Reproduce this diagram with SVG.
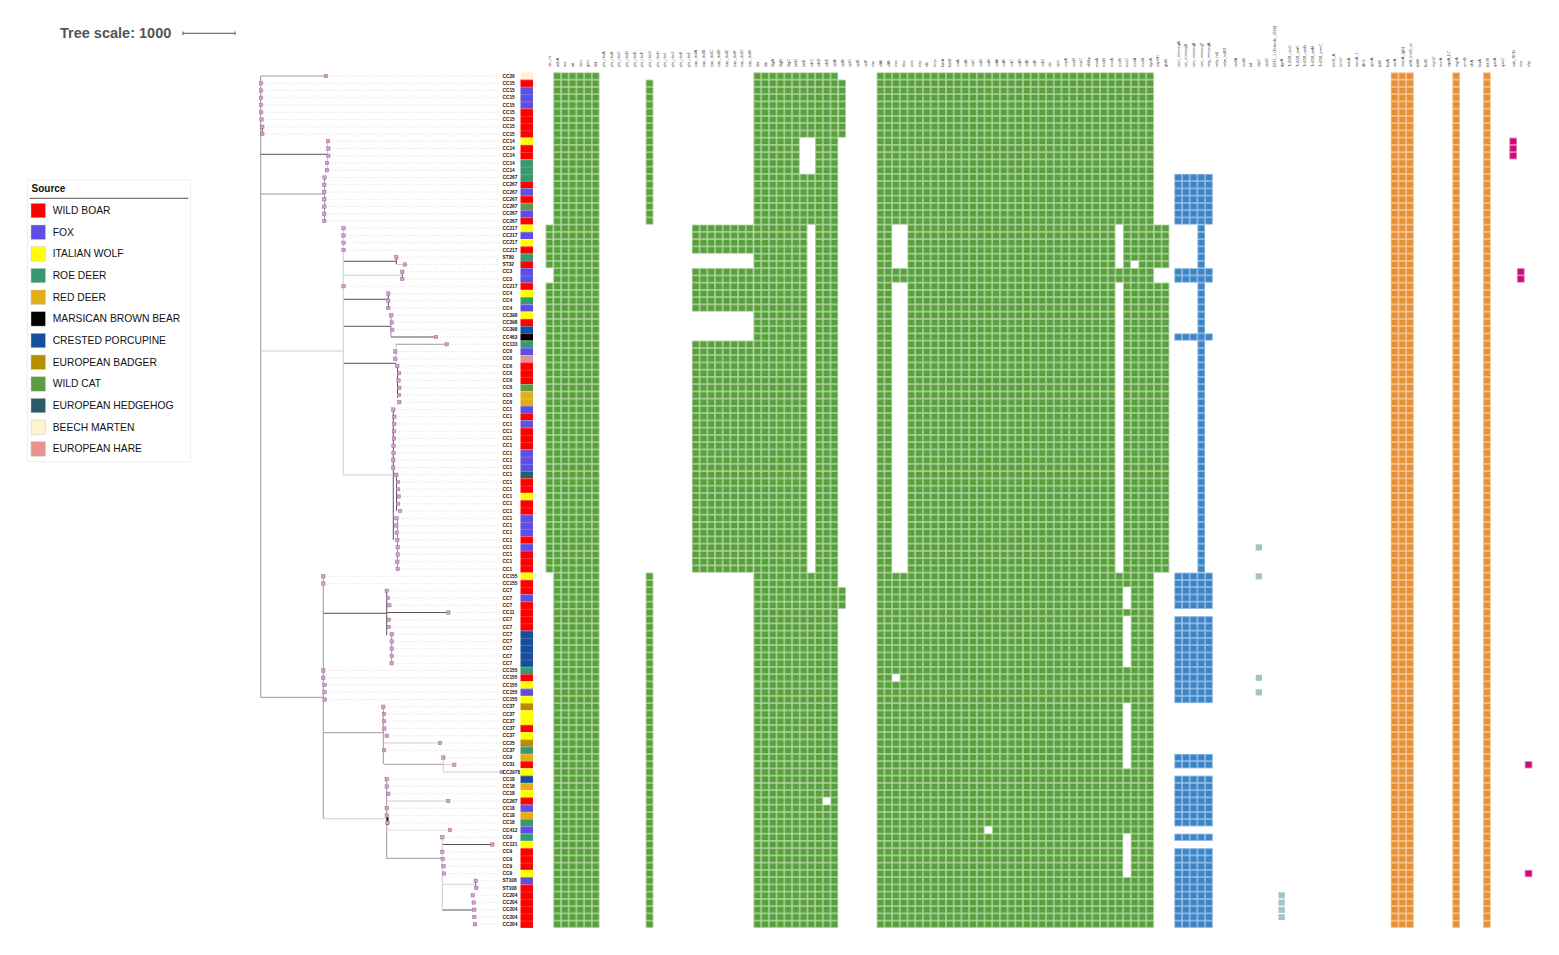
<svg xmlns="http://www.w3.org/2000/svg" xmlns:xlink="http://www.w3.org/1999/xlink" width="1559" height="955" viewBox="0 0 1559 955">
<style>
.wb{fill:#ff0000}.fx{fill:#5e4fe3}.yw{fill:#ffff00}.rd{fill:#37996f}.rv{fill:#e3ad17}.bb{fill:#000}.cp{fill:#174f9c}.eb{fill:#b98d00}.wc{fill:#5f9a45}.hh{fill:#295d68}.bm{fill:#fff2cc}.hr{fill:#e6938f}
.lg{font-family:"Liberation Sans",Arial,sans-serif;font-size:10.3px;fill:#111}
.lf{font-family:"Liberation Sans",Arial,sans-serif;font-size:4.8px;font-weight:bold;fill:#111}
.hd{font-family:"Liberation Sans",Arial,sans-serif;font-size:4px;fill:#444}
.d{stroke:#555;stroke-width:1;fill:none}.m{stroke:#999;stroke-width:1;fill:none}.l{stroke:#cfcfcf;stroke-width:1;fill:none}
.hole{fill:#fff}
</style>
<defs>
<pattern id="pg" patternUnits="userSpaceOnUse" x="545.6" y="72.4" width="7.7" height="7.25"><rect width="7.7" height="7.25" fill="#b6d7a8"/><rect x="0.7" y="0.7" width="6.3" height="5.85" fill="#58a13b"/></pattern>
<pattern id="pb" patternUnits="userSpaceOnUse" x="1174.3" y="72.4" width="7.7" height="7.25"><rect width="7.7" height="7.25" fill="#9fc5e8"/><rect x="0.7" y="0.7" width="6.3" height="5.85" fill="#3d85c6"/></pattern>
<pattern id="po" patternUnits="userSpaceOnUse" x="1390.7" y="72.4" width="7.7" height="7.25"><rect width="7.7" height="7.25" fill="#f9cb9c"/><rect x="0.7" y="0.7" width="6.3" height="5.85" fill="#e69138"/></pattern>
<pattern id="pm" patternUnits="userSpaceOnUse" x="1509.3" y="72.4" width="7.7" height="7.25"><rect width="7.7" height="7.25" fill="#ef9ac8"/><rect x="0.7" y="0.7" width="6.3" height="5.85" fill="#cc0a7a"/></pattern>
<pattern id="pt" patternUnits="userSpaceOnUse" x="0" y="72.4" width="20" height="7.25"><rect width="20" height="0.4" fill="#fff" fill-opacity="0.5"/></pattern>
<rect id="mk" x="-1.7" y="-1.7" width="3.4" height="3.4" fill="#d3a1ca" stroke="#a2649a" stroke-width="0.5"/>
</defs>
<rect width="1559" height="955" fill="#fff"/>

<g id="tree-scale">
<text x="60" y="38.3" font-family="Liberation Sans,Arial,sans-serif" font-size="14.5" font-weight="bold" fill="#555">Tree scale: 1000</text>
<path d="M183 33.3H235M183 31.5V35.1M235 31.5V35.1" stroke="#555" stroke-width="1" fill="none"/>
</g>

<g id="legend">
<rect x="27.3" y="180" width="163.3" height="281.7" fill="#fff" stroke="#eee" stroke-width="1"/>
<text x="31.5" y="191.5" font-family="Liberation Sans,Arial,sans-serif" font-size="10" font-weight="bold" fill="#111">Source</text>
<line x1="29.5" y1="198.3" x2="188.3" y2="198.3" stroke="#555" stroke-width="1"/>
<g stroke="#ccc" stroke-width="0.5">
<rect class="wb" x="31" y="203.3" width="14.5" height="14.5"/>
<rect class="fx" x="31" y="225" width="14.5" height="14.5"/>
<rect class="yw" x="31" y="246.6" width="14.5" height="14.5"/>
<rect class="rd" x="31" y="268.3" width="14.5" height="14.5"/>
<rect class="rv" x="31" y="290" width="14.5" height="14.5"/>
<rect class="bb" x="31" y="311.6" width="14.5" height="14.5"/>
<rect class="cp" x="31" y="333.3" width="14.5" height="14.5"/>
<rect class="eb" x="31" y="355" width="14.5" height="14.5"/>
<rect class="wc" x="31" y="376.7" width="14.5" height="14.5"/>
<rect class="hh" x="31" y="398.3" width="14.5" height="14.5"/>
<rect class="bm" x="31" y="420" width="14.5" height="14.5"/>
<rect class="hr" x="31" y="441.7" width="14.5" height="14.5"/>
</g>
<text class="lg" x="52.7" y="214">WILD BOAR</text>
<text class="lg" x="52.7" y="235.7">FOX</text>
<text class="lg" x="52.7" y="257.3">ITALIAN WOLF</text>
<text class="lg" x="52.7" y="279">ROE DEER</text>
<text class="lg" x="52.7" y="300.7">RED DEER</text>
<text class="lg" x="52.7" y="322.3">MARSICAN BROWN BEAR</text>
<text class="lg" x="52.7" y="344">CRESTED PORCUPINE</text>
<text class="lg" x="52.7" y="365.7">EUROPEAN BADGER</text>
<text class="lg" x="52.7" y="387.4">WILD CAT</text>
<text class="lg" x="52.7" y="409">EUROPEAN HEDGEHOG</text>
<text class="lg" x="52.7" y="430.7">BEECH MARTEN</text>
<text class="lg" x="52.7" y="452.4">EUROPEAN HARE</text>
</g>

<g id="connectors">
<path stroke="#c4c4c4" stroke-width="0.6" stroke-dasharray="1 2" fill="none" d="M328 76H500M263 83.25H500M263 90.5H500M263 97.75H500M263 105H500M263 112.25H500M263.5 119.5H500M264.3 126.75H500M264.3 134H500M330 141.25H500M330.3 148.5H500M330.3 155.75H500M329 163H500M329 170.25H500M326.5 177.5H500M326.3 184.75H500M326.3 192H500M326.3 199.25H500M326.3 206.5H500M326.3 213.75H500M326.3 221H500M345.5 228.25H500M345.5 235.5H500M345.5 242.75H500M345.5 250H500M398.3 257.25H500M407 264.5H500M404.3 271.75H500M404.3 279H500M345.5 286.25H500M390.3 293.5H500M390.3 300.75H500M390.3 308H500M393.3 315.25H500M393.7 322.5H500M394.3 329.75H500M438 337H500M448.7 344.25H500M397.3 351.5H500M397.3 358.75H500M399.3 366H500M401 373.25H500M400.5 380.5H500M401.3 387.75H500M401 395H500M401.3 402.25H500M395.3 409.5H500M396.3 416.75H500M396.3 424H500M396 431.25H500M396 438.5H500M395.5 445.75H500M395.5 453H500M395.3 460.25H500M395.3 467.5H500M398.3 474.75H500M400 482H500M400 489.25H500M400.7 496.5H500M400 503.75H500M402 511H500M398.5 518.25H500M398.3 525.5H500M398.7 532.75H500M399.3 540H500M399.7 547.25H500M399.7 554.5H500M399.3 561.75H500M399.7 569H500M325.3 576.25H500M325.3 583.5H500M388.7 590.75H500M390 598H500M391.3 605.25H500M450.3 612.5H500M390.7 619.75H500M390.7 627H500M393.7 634.25H500M393.7 641.5H500M393.7 648.75H500M393.7 656H500M393.7 663.25H500M325.3 670.5H500M325.3 677.75H500M326.5 685H500M326.5 692.25H500M326.7 699.5H500M385.3 706.75H500M386 714H500M386 721.25H500M386.3 728.5H500M388.7 735.75H500M442 743H500M386 750.25H500M445.3 757.5H500M456.3 764.75H500M388.7 779.25H500M388.7 786.5H500M390.3 793.75H500M450.3 801H500M388.7 808.25H500M388.7 815.5H500M389.5 822.75H500M452 830H500M444.3 837.25H500M494.3 844.5H500M444.3 851.75H500M444.7 859H500M445.5 866.25H500M446 873.5H500M477.7 880.75H500M478.3 888H500M474.7 895.25H500M475.7 902.5H500M476.3 909.75H500M476.3 917H500M477 924.25H500"/>
<path class="m" d="M260.7 76V697.3M260.7 76H326M260.7 194H324.5M324.5 177.5V221M260.7 697.3H323.3M323.3 576.25V818.7"/>
<path class="d" d="M262.3 126.75V134M260.7 154.3H327.5M343.3 261.3H396.3M396.3 257.25V264.5M402.3 271.75V279M343.3 299.3H388.3M388.3 293.5V308M343.3 326.3H391M391 337H436M343.3 363.3H396M397.5 366V398M393.3 409.5V540M396.5 474V511"/>
<path class="l" d="M327.5 141.25V170.25M260.7 351H343.3M343.3 228.25V475M396.3 264.5H405M343.3 275.3H402.3M396 344.25V363.3M343.3 475H393.3"/>
<path class="m" d="M391 315.25V337M396 344.25H446.7M397.5 518V569"/>
<path class="d" d="M323.3 613.3H386.7M386.7 590.7V635.3M386.7 612.5H448.3M442.3 844.5H492.3M475.7 880.75V888M442.3 910H473.3"/>
<path class="m" d="M391.7 634.25V663.25M323.3 732.7H383.3M383.3 706V764.3M384 764.3H443.3M386.7 779.3V858.3M386.7 858.3H442.3"/>
<path class="l" d="M383.3 743H440M443.3 757.5V772M443.3 764.75H454.3M443.3 772H501.7M323.3 818.7H386.7M386.7 801H448.3M442.3 837.3V910M442.3 884.3H475.7"/>
<path stroke="#e2e2e2" stroke-width="1" fill="none" d="M386.7 830H450"/>
<path stroke="#111" stroke-width="2" fill="none" d="M387.5 817V825"/>
</g>

<g id="leaf-markers">
<use href="#mk" x="326" y="76"/><use href="#mk" x="261" y="83.25"/><use href="#mk" x="261" y="90.5"/><use href="#mk" x="261" y="97.75"/><use href="#mk" x="261" y="105"/><use href="#mk" x="261" y="112.25"/><use href="#mk" x="261.5" y="119.5"/><use href="#mk" x="262.3" y="126.75"/><use href="#mk" x="262.3" y="134"/>
<use href="#mk" x="328" y="141.25"/><use href="#mk" x="328.3" y="148.5"/><use href="#mk" x="328.3" y="155.75"/><use href="#mk" x="327" y="163"/><use href="#mk" x="327" y="170.25"/>
<use href="#mk" x="324.5" y="177.5"/><use href="#mk" x="324.3" y="184.75"/><use href="#mk" x="324.3" y="192"/><use href="#mk" x="324.3" y="199.25"/><use href="#mk" x="324.3" y="206.5"/><use href="#mk" x="324.3" y="213.75"/><use href="#mk" x="324.3" y="221"/>
<use href="#mk" x="343.5" y="228.25"/><use href="#mk" x="343.5" y="235.5"/><use href="#mk" x="343.5" y="242.75"/><use href="#mk" x="343.5" y="250"/><use href="#mk" x="396.3" y="257.25"/><use href="#mk" x="405" y="264.5"/><use href="#mk" x="402.3" y="271.75"/><use href="#mk" x="402.3" y="279"/><use href="#mk" x="343.5" y="286.25"/>
<use href="#mk" x="388.3" y="293.5"/><use href="#mk" x="388.3" y="300.75"/><use href="#mk" x="388.3" y="308"/><use href="#mk" x="391.3" y="315.25"/><use href="#mk" x="391.7" y="322.5"/><use href="#mk" x="392.3" y="329.75"/><use href="#mk" x="436" y="337"/><use href="#mk" x="446.7" y="344.25"/>
<use href="#mk" x="395.3" y="351.5"/><use href="#mk" x="395.3" y="358.75"/><use href="#mk" x="397.3" y="366"/><use href="#mk" x="399" y="373.25"/><use href="#mk" x="398.5" y="380.5"/><use href="#mk" x="399.3" y="387.75"/><use href="#mk" x="399" y="395"/><use href="#mk" x="399.3" y="402.25"/>
<use href="#mk" x="393.3" y="409.5"/><use href="#mk" x="394.3" y="416.75"/><use href="#mk" x="394.3" y="424"/><use href="#mk" x="394" y="431.25"/><use href="#mk" x="394" y="438.5"/><use href="#mk" x="393.5" y="445.75"/><use href="#mk" x="393.5" y="453"/><use href="#mk" x="393.3" y="460.25"/><use href="#mk" x="393.3" y="467.5"/>
<use href="#mk" x="396.3" y="474.75"/><use href="#mk" x="398" y="482"/><use href="#mk" x="398" y="489.25"/><use href="#mk" x="398.7" y="496.5"/><use href="#mk" x="398" y="503.75"/><use href="#mk" x="400" y="511"/><use href="#mk" x="396.5" y="518.25"/><use href="#mk" x="396.3" y="525.5"/><use href="#mk" x="396.7" y="532.75"/><use href="#mk" x="397.3" y="540"/><use href="#mk" x="397.7" y="547.25"/><use href="#mk" x="397.7" y="554.5"/><use href="#mk" x="397.3" y="561.75"/><use href="#mk" x="397.7" y="569"/>
<use href="#mk" x="323.3" y="576.25"/><use href="#mk" x="323.3" y="583.5"/><use href="#mk" x="386.7" y="590.75"/><use href="#mk" x="388" y="598"/><use href="#mk" x="389.3" y="605.25"/><use href="#mk" x="448.3" y="612.5"/><use href="#mk" x="388.7" y="619.75"/><use href="#mk" x="388.7" y="627"/><use href="#mk" x="391.7" y="634.25"/><use href="#mk" x="391.7" y="641.5"/><use href="#mk" x="391.7" y="648.75"/><use href="#mk" x="391.7" y="656"/><use href="#mk" x="391.7" y="663.25"/>
<use href="#mk" x="323.3" y="670.5"/><use href="#mk" x="323.3" y="677.75"/><use href="#mk" x="324.5" y="685"/><use href="#mk" x="324.5" y="692.25"/><use href="#mk" x="324.7" y="699.5"/>
<use href="#mk" x="383.3" y="706.75"/><use href="#mk" x="384" y="714"/><use href="#mk" x="384" y="721.25"/><use href="#mk" x="384.3" y="728.5"/><use href="#mk" x="386.7" y="735.75"/><use href="#mk" x="440" y="743"/><use href="#mk" x="384" y="750.25"/><use href="#mk" x="443.3" y="757.5"/><use href="#mk" x="454.3" y="764.75"/><use href="#mk" x="501.7" y="772"/>
<use href="#mk" x="386.7" y="779.25"/><use href="#mk" x="386.7" y="786.5"/><use href="#mk" x="388.3" y="793.75"/><use href="#mk" x="448.3" y="801"/><use href="#mk" x="386.7" y="808.25"/><use href="#mk" x="386.7" y="815.5"/><use href="#mk" x="387.5" y="822.75"/><use href="#mk" x="450" y="830"/>
<use href="#mk" x="442.3" y="837.25"/><use href="#mk" x="492.3" y="844.5"/><use href="#mk" x="442.3" y="851.75"/><use href="#mk" x="442.7" y="859"/><use href="#mk" x="443.5" y="866.25"/><use href="#mk" x="444" y="873.5"/><use href="#mk" x="475.7" y="880.75"/><use href="#mk" x="476.3" y="888"/>
<use href="#mk" x="472.7" y="895.25"/><use href="#mk" x="473.7" y="902.5"/><use href="#mk" x="474.3" y="909.75"/><use href="#mk" x="474.3" y="917"/><use href="#mk" x="475" y="924.25"/>
</g>

<g id="leaf-labels">
<text class="lf" x="502.5" y="77.7">CC26</text><text class="lf" x="502.5" y="84.95">CC15</text><text class="lf" x="502.5" y="92.2">CC15</text><text class="lf" x="502.5" y="99.45">CC15</text><text class="lf" x="502.5" y="106.7">CC15</text><text class="lf" x="502.5" y="113.95">CC15</text><text class="lf" x="502.5" y="121.2">CC15</text><text class="lf" x="502.5" y="128.45">CC15</text><text class="lf" x="502.5" y="135.7">CC15</text>
<text class="lf" x="502.5" y="142.95">CC14</text><text class="lf" x="502.5" y="150.2">CC14</text><text class="lf" x="502.5" y="157.45">CC14</text><text class="lf" x="502.5" y="164.7">CC14</text><text class="lf" x="502.5" y="171.95">CC14</text>
<text class="lf" x="502.5" y="179.2">CC267</text><text class="lf" x="502.5" y="186.45">CC267</text><text class="lf" x="502.5" y="193.7">CC267</text><text class="lf" x="502.5" y="200.95">CC267</text><text class="lf" x="502.5" y="208.2">CC267</text><text class="lf" x="502.5" y="215.45">CC267</text><text class="lf" x="502.5" y="222.7">CC267</text>
<text class="lf" x="502.5" y="229.95">CC217</text><text class="lf" x="502.5" y="237.2">CC217</text><text class="lf" x="502.5" y="244.45">CC217</text><text class="lf" x="502.5" y="251.7">CC217</text><text class="lf" x="502.5" y="258.95">ST80</text><text class="lf" x="502.5" y="266.2">ST32</text><text class="lf" x="502.5" y="273.45">CC3</text><text class="lf" x="502.5" y="280.7">CC3</text><text class="lf" x="502.5" y="287.95">CC217</text>
<text class="lf" x="502.5" y="295.2">CC4</text><text class="lf" x="502.5" y="302.45">CC4</text><text class="lf" x="502.5" y="309.7">CC4</text><text class="lf" x="502.5" y="316.95">CC398</text><text class="lf" x="502.5" y="324.2">CC398</text><text class="lf" x="502.5" y="331.45">CC398</text><text class="lf" x="502.5" y="338.7">CC463</text><text class="lf" x="502.5" y="345.95">CC133</text>
<text class="lf" x="502.5" y="353.2">CC6</text><text class="lf" x="502.5" y="360.45">CC6</text><text class="lf" x="502.5" y="367.7">CC6</text><text class="lf" x="502.5" y="374.95">CC6</text><text class="lf" x="502.5" y="382.2">CC6</text><text class="lf" x="502.5" y="389.45">CC6</text><text class="lf" x="502.5" y="396.7">CC6</text><text class="lf" x="502.5" y="403.95">CC6</text>
<text class="lf" x="502.5" y="411.2">CC1</text><text class="lf" x="502.5" y="418.45">CC1</text><text class="lf" x="502.5" y="425.7">CC1</text><text class="lf" x="502.5" y="432.95">CC1</text><text class="lf" x="502.5" y="440.2">CC1</text><text class="lf" x="502.5" y="447.45">CC1</text><text class="lf" x="502.5" y="454.7">CC1</text><text class="lf" x="502.5" y="461.95">CC1</text><text class="lf" x="502.5" y="469.2">CC1</text><text class="lf" x="502.5" y="476.45">CC1</text><text class="lf" x="502.5" y="483.7">CC1</text><text class="lf" x="502.5" y="490.95">CC1</text><text class="lf" x="502.5" y="498.2">CC1</text><text class="lf" x="502.5" y="505.45">CC1</text><text class="lf" x="502.5" y="512.7">CC1</text><text class="lf" x="502.5" y="519.95">CC1</text><text class="lf" x="502.5" y="527.2">CC1</text><text class="lf" x="502.5" y="534.45">CC1</text><text class="lf" x="502.5" y="541.7">CC1</text><text class="lf" x="502.5" y="548.95">CC1</text><text class="lf" x="502.5" y="556.2">CC1</text><text class="lf" x="502.5" y="563.45">CC1</text><text class="lf" x="502.5" y="570.7">CC1</text>
<text class="lf" x="502.5" y="577.95">CC155</text><text class="lf" x="502.5" y="585.2">CC155</text><text class="lf" x="502.5" y="592.45">CC7</text><text class="lf" x="502.5" y="599.7">CC7</text><text class="lf" x="502.5" y="606.95">CC7</text><text class="lf" x="502.5" y="614.2">CC11</text><text class="lf" x="502.5" y="621.45">CC7</text><text class="lf" x="502.5" y="628.7">CC7</text><text class="lf" x="502.5" y="635.95">CC7</text><text class="lf" x="502.5" y="643.2">CC7</text><text class="lf" x="502.5" y="650.45">CC7</text><text class="lf" x="502.5" y="657.7">CC7</text><text class="lf" x="502.5" y="664.95">CC7</text>
<text class="lf" x="502.5" y="672.2">CC155</text><text class="lf" x="502.5" y="679.45">CC155</text><text class="lf" x="502.5" y="686.7">CC155</text><text class="lf" x="502.5" y="693.95">CC155</text><text class="lf" x="502.5" y="701.2">CC155</text>
<text class="lf" x="502.5" y="708.45">CC37</text><text class="lf" x="502.5" y="715.7">CC37</text><text class="lf" x="502.5" y="722.95">CC37</text><text class="lf" x="502.5" y="730.2">CC37</text><text class="lf" x="502.5" y="737.45">CC37</text><text class="lf" x="502.5" y="744.7">CC25</text><text class="lf" x="502.5" y="751.95">CC37</text><text class="lf" x="502.5" y="759.2">CC9</text><text class="lf" x="502.5" y="766.45">CC31</text><text class="lf" x="502.5" y="773.7">CC2978</text>
<text class="lf" x="502.5" y="780.95">CC18</text><text class="lf" x="502.5" y="788.2">CC18</text><text class="lf" x="502.5" y="795.45">CC18</text><text class="lf" x="502.5" y="802.7">CC267</text><text class="lf" x="502.5" y="809.95">CC18</text><text class="lf" x="502.5" y="817.2">CC18</text><text class="lf" x="502.5" y="824.45">CC18</text><text class="lf" x="502.5" y="831.7">CC412</text>
<text class="lf" x="502.5" y="838.95">CC9</text><text class="lf" x="502.5" y="846.2">CC121</text><text class="lf" x="502.5" y="853.45">CC9</text><text class="lf" x="502.5" y="860.7">CC9</text><text class="lf" x="502.5" y="867.95">CC9</text><text class="lf" x="502.5" y="875.2">CC9</text><text class="lf" x="502.5" y="882.45">ST108</text><text class="lf" x="502.5" y="889.7">ST108</text>
<text class="lf" x="502.5" y="896.95">CC204</text><text class="lf" x="502.5" y="904.2">CC204</text><text class="lf" x="502.5" y="911.45">CC204</text><text class="lf" x="502.5" y="918.7">CC204</text><text class="lf" x="502.5" y="925.95">CC204</text>
</g>

<g id="source-strip">
<rect class="bm" x="520.5" y="72.4" width="12.5" height="7.25"/>
<rect class="wb" x="520.5" y="79.65" width="12.5" height="7.25"/>
<rect class="fx" x="520.5" y="86.9" width="12.5" height="21.75"/>
<rect class="wb" x="520.5" y="108.65" width="12.5" height="29"/>
<rect class="yw" x="520.5" y="137.65" width="12.5" height="7.25"/>
<rect class="wb" x="520.5" y="144.9" width="12.5" height="14.5"/>
<rect class="rd" x="520.5" y="159.4" width="12.5" height="21.75"/>
<rect class="wb" x="520.5" y="181.15" width="12.5" height="7.25"/>
<rect class="fx" x="520.5" y="188.4" width="12.5" height="7.25"/>
<rect class="wb" x="520.5" y="195.65" width="12.5" height="7.25"/>
<rect class="wc" x="520.5" y="202.9" width="12.5" height="7.25"/>
<rect class="fx" x="520.5" y="210.15" width="12.5" height="7.25"/>
<rect class="wb" x="520.5" y="217.4" width="12.5" height="7.25"/>
<rect class="yw" x="520.5" y="224.65" width="12.5" height="7.25"/>
<rect class="fx" x="520.5" y="231.9" width="12.5" height="7.25"/>
<rect class="yw" x="520.5" y="239.15" width="12.5" height="7.25"/>
<rect class="wb" x="520.5" y="246.4" width="12.5" height="7.25"/>
<rect class="rd" x="520.5" y="253.65" width="12.5" height="7.25"/>
<rect class="wb" x="520.5" y="260.9" width="12.5" height="7.25"/>
<rect class="fx" x="520.5" y="268.15" width="12.5" height="14.5"/>
<rect class="wb" x="520.5" y="282.65" width="12.5" height="7.25"/>
<rect class="yw" x="520.5" y="289.9" width="12.5" height="7.25"/>
<rect class="rd" x="520.5" y="297.15" width="12.5" height="7.25"/>
<rect class="fx" x="520.5" y="304.4" width="12.5" height="7.25"/>
<rect class="yw" x="520.5" y="311.65" width="12.5" height="7.25"/>
<rect class="wb" x="520.5" y="318.9" width="12.5" height="7.25"/>
<rect class="cp" x="520.5" y="326.15" width="12.5" height="7.25"/>
<rect class="bb" x="520.5" y="333.4" width="12.5" height="7.25"/>
<rect class="rd" x="520.5" y="340.65" width="12.5" height="7.25"/>
<rect class="fx" x="520.5" y="347.9" width="12.5" height="7.25"/>
<rect class="hr" x="520.5" y="355.15" width="12.5" height="7.25"/>
<rect class="wb" x="520.5" y="362.4" width="12.5" height="21.75"/>
<rect class="wc" x="520.5" y="384.15" width="12.5" height="7.25"/>
<rect class="rv" x="520.5" y="391.4" width="12.5" height="14.5"/>
<rect class="fx" x="520.5" y="405.9" width="12.5" height="7.25"/>
<rect class="wb" x="520.5" y="413.15" width="12.5" height="7.25"/>
<rect class="fx" x="520.5" y="420.4" width="12.5" height="7.25"/>
<rect class="wb" x="520.5" y="427.65" width="12.5" height="21.75"/>
<rect class="fx" x="520.5" y="449.4" width="12.5" height="21.75"/>
<rect class="hh" x="520.5" y="471.15" width="12.5" height="7.25"/>
<rect class="wb" x="520.5" y="478.4" width="12.5" height="14.5"/>
<rect class="yw" x="520.5" y="492.9" width="12.5" height="7.25"/>
<rect class="wb" x="520.5" y="500.15" width="12.5" height="14.5"/>
<rect class="fx" x="520.5" y="514.65" width="12.5" height="21.75"/>
<rect class="wb" x="520.5" y="536.4" width="12.5" height="7.25"/>
<rect class="fx" x="520.5" y="543.65" width="12.5" height="7.25"/>
<rect class="wb" x="520.5" y="550.9" width="12.5" height="21.75"/>
<rect class="yw" x="520.5" y="572.65" width="12.5" height="7.25"/>
<rect class="wb" x="520.5" y="579.9" width="12.5" height="14.5"/>
<rect class="fx" x="520.5" y="594.4" width="12.5" height="7.25"/>
<rect class="wb" x="520.5" y="601.65" width="12.5" height="29"/>
<rect class="cp" x="520.5" y="630.65" width="12.5" height="36.25"/>
<rect class="rd" x="520.5" y="666.9" width="12.5" height="7.25"/>
<rect class="wb" x="520.5" y="674.15" width="12.5" height="7.25"/>
<rect class="yw" x="520.5" y="681.4" width="12.5" height="7.25"/>
<rect class="fx" x="520.5" y="688.65" width="12.5" height="7.25"/>
<rect class="yw" x="520.5" y="695.9" width="12.5" height="7.25"/>
<rect class="eb" x="520.5" y="703.15" width="12.5" height="7.25"/>
<rect class="yw" x="520.5" y="710.4" width="12.5" height="14.5"/>
<rect class="wb" x="520.5" y="724.9" width="12.5" height="7.25"/>
<rect class="yw" x="520.5" y="732.15" width="12.5" height="7.25"/>
<rect class="eb" x="520.5" y="739.4" width="12.5" height="7.25"/>
<rect class="rd" x="520.5" y="746.65" width="12.5" height="7.25"/>
<rect class="rv" x="520.5" y="753.9" width="12.5" height="7.25"/>
<rect class="wb" x="520.5" y="761.15" width="12.5" height="7.25"/>
<rect class="yw" x="520.5" y="768.4" width="12.5" height="7.25"/>
<rect class="cp" x="520.5" y="775.65" width="12.5" height="7.25"/>
<rect class="rv" x="520.5" y="782.9" width="12.5" height="7.25"/>
<rect class="yw" x="520.5" y="790.15" width="12.5" height="7.25"/>
<rect class="wb" x="520.5" y="797.4" width="12.5" height="7.25"/>
<rect class="fx" x="520.5" y="804.65" width="12.5" height="7.25"/>
<rect class="rv" x="520.5" y="811.9" width="12.5" height="7.25"/>
<rect class="rd" x="520.5" y="819.15" width="12.5" height="7.25"/>
<rect class="fx" x="520.5" y="826.4" width="12.5" height="7.25"/>
<rect class="rd" x="520.5" y="833.65" width="12.5" height="7.25"/>
<rect class="yw" x="520.5" y="840.9" width="12.5" height="7.25"/>
<rect class="wb" x="520.5" y="848.15" width="12.5" height="21.75"/>
<rect class="yw" x="520.5" y="869.9" width="12.5" height="7.25"/>
<rect class="fx" x="520.5" y="877.15" width="12.5" height="7.25"/>
<rect class="wb" x="520.5" y="884.4" width="12.5" height="43.5"/>
<rect x="520.5" y="72.4" width="12.5" height="855.5" fill="url(#pt)"/>
</g>

<g id="heatmap-green">
<rect fill="url(#pg)" x="553.3" y="72.4" width="46.2" height="855.5"/>
<rect fill="url(#pg)" x="545.6" y="224.65" width="7.7" height="43.5"/>
<rect fill="url(#pg)" x="545.6" y="282.65" width="7.7" height="290"/>
<rect fill="url(#pg)" x="645.7" y="79.65" width="7.7" height="145"/>
<rect fill="url(#pg)" x="645.7" y="572.65" width="7.7" height="355.25"/>
<rect fill="url(#pg)" x="691.9" y="224.65" width="61.6" height="29"/>
<rect fill="url(#pg)" x="691.9" y="268.15" width="61.6" height="43.5"/>
<rect fill="url(#pg)" x="691.9" y="340.65" width="61.6" height="232"/>
<rect fill="url(#pg)" x="753.5" y="72.4" width="84.7" height="855.5"/>
<rect fill="url(#pg)" x="838.2" y="79.65" width="7.7" height="58"/>
<rect fill="url(#pg)" x="838.2" y="587.15" width="7.7" height="21.75"/>
<rect fill="url(#pg)" x="876.7" y="72.4" width="277.2" height="855.5"/>
<rect fill="url(#pg)" x="1153.9" y="224.65" width="15.4" height="43.5"/>
<rect fill="url(#pg)" x="1153.9" y="282.65" width="15.4" height="290"/>
<rect class="hole" x="799.7" y="137.65" width="15.4" height="36.25"/>
<rect class="hole" x="807.4" y="224.65" width="7.7" height="348"/>
<rect class="hole" x="822.8" y="797.4" width="7.7" height="7.25"/>
<rect class="hole" x="892.1" y="224.65" width="15.4" height="43.5"/>
<rect class="hole" x="892.1" y="282.65" width="15.4" height="290"/>
<rect class="hole" x="892.1" y="674.15" width="7.7" height="7.25"/>
<rect class="hole" x="984.5" y="826.4" width="7.7" height="7.25"/>
<rect class="hole" x="1115.4" y="224.65" width="7.7" height="43.5"/>
<rect class="hole" x="1115.4" y="282.65" width="7.7" height="290"/>
<rect class="hole" x="1130.8" y="260.9" width="7.7" height="7.25"/>
<rect class="hole" x="1123.1" y="587.15" width="7.7" height="21.75"/>
<rect class="hole" x="1123.1" y="616.15" width="7.7" height="50.75"/>
<rect class="hole" x="1123.1" y="703.15" width="7.7" height="65.25"/>
<rect class="hole" x="1123.1" y="833.65" width="7.7" height="43.5"/>
</g>

<g id="heatmap-blue">
<rect fill="url(#pb)" x="1174.3" y="173.9" width="38.5" height="50.75"/>
<rect fill="url(#pb)" x="1197.4" y="224.65" width="7.7" height="348"/>
<rect fill="url(#pb)" x="1174.3" y="268.15" width="38.5" height="14.5"/>
<rect fill="url(#pb)" x="1174.3" y="333.4" width="38.5" height="7.25"/>
<rect fill="url(#pb)" x="1174.3" y="572.65" width="38.5" height="36.25"/>
<rect fill="url(#pb)" x="1174.3" y="616.15" width="38.5" height="87"/>
<rect fill="url(#pb)" x="1174.3" y="753.9" width="38.5" height="14.5"/>
<rect fill="url(#pb)" x="1174.3" y="775.65" width="38.5" height="50.75"/>
<rect fill="url(#pb)" x="1174.3" y="833.65" width="38.5" height="7.25"/>
<rect fill="url(#pb)" x="1174.3" y="848.15" width="38.5" height="79.75"/>
</g>

<g id="heatmap-grey" fill="#a2c4c9">
<rect x="1255.7" y="544.3" width="6.3" height="6.1"/>
<rect x="1255.7" y="573.3" width="6.3" height="6.1"/>
<rect x="1255.7" y="674.8" width="6.3" height="6.1"/>
<rect x="1255.7" y="689.3" width="6.3" height="6.1"/>
<rect x="1278.5" y="892.3" width="6.3" height="6.1"/>
<rect x="1278.5" y="899.55" width="6.3" height="6.1"/>
<rect x="1278.5" y="906.8" width="6.3" height="6.1"/>
<rect x="1278.5" y="914.05" width="6.3" height="6.1"/>
</g>

<g id="heatmap-orange">
<rect fill="url(#po)" x="1390.7" y="72.4" width="23.1" height="855.5"/>
<rect fill="url(#po)" x="1452.3" y="72.4" width="7.7" height="855.5"/>
<rect fill="url(#po)" x="1483.1" y="72.4" width="7.7" height="855.5"/>
</g>

<g id="heatmap-magenta">
<rect fill="url(#pm)" x="1509.3" y="137.65" width="7.7" height="21.75"/>
<rect fill="url(#pm)" x="1517" y="268.15" width="7.7" height="14.5"/>
<rect fill="url(#pm)" x="1524.7" y="761.15" width="7.7" height="7.25"/>
<rect fill="url(#pm)" x="1524.7" y="869.9" width="7.7" height="7.25"/>
</g>

<g id="column-headers" class="hd" transform="rotate(-90)">
<text x="-67" y="550.9">sbi_rh</text><text x="-67" y="558.6">adsA</text><text x="-67" y="566.3">aur</text><text x="-67" y="574">atl</text><text x="-67" y="581.7">ebh</text><text x="-67" y="589.4">geh</text><text x="-67" y="597.1">hld</text>
<text x="-67" y="604.8">phi_rbcA</text><text x="-67" y="612.5">phi_rbcB</text><text x="-67" y="620.2">phi_rbcC</text><text x="-67" y="627.9">phi_rbcD</text><text x="-67" y="635.6">phi_rbcE</text><text x="-67" y="643.3">phi_rbcF</text><text x="-67" y="651">phi_rbcG</text><text x="-67" y="658.7">phi_rbcH</text><text x="-67" y="666.4">phi_rbcI</text><text x="-67" y="674.1">phi_rbcJ</text><text x="-67" y="681.8">phi_rbcK</text><text x="-67" y="689.5">phi_rbcL</text>
<text x="-67" y="697.2">cap_rbdA</text><text x="-67" y="704.9">cap_rbdB</text><text x="-67" y="712.6">cap_rbdC</text><text x="-67" y="720.3">cap_rbdD</text><text x="-67" y="728">cap_rbdE</text><text x="-67" y="735.7">cap_rbdF</text><text x="-67" y="743.4">cap_rbdG</text><text x="-67" y="751.1">cap_rbdH</text>
<text x="-67" y="758.8">hla</text><text x="-67" y="766.5">hlb</text><text x="-67" y="774.2">hlgA</text><text x="-67" y="781.9">hlgB</text><text x="-67" y="789.6">hlgC</text><text x="-67" y="797.3">lukD</text><text x="-67" y="805">lukE</text><text x="-67" y="812.7">sdrC</text><text x="-67" y="820.4">sdrD</text><text x="-67" y="828.1">sdrE</text><text x="-67" y="835.8">splA</text><text x="-67" y="843.5">splB</text>
<text x="-67" y="851.2">splC</text><text x="-67" y="858.9">splE</text><text x="-67" y="866.6">splF</text><text x="-67" y="874.3">chp</text>
<text x="-67" y="882">clfA</text><text x="-67" y="889.7">clfB</text><text x="-67" y="897.4">cna</text><text x="-67" y="905.1">bbp</text><text x="-67" y="912.8">coa</text><text x="-67" y="920.5">eap</text><text x="-67" y="928.2">efb</text><text x="-67" y="935.9">emp</text><text x="-67" y="943.6">fnbA</text><text x="-67" y="951.3">fnbB</text><text x="-67" y="959">icaA</text><text x="-67" y="966.7">icaB</text><text x="-67" y="974.4">icaC</text><text x="-67" y="982.1">icaD</text><text x="-67" y="989.8">icaR</text><text x="-67" y="997.5">isdA</text><text x="-67" y="1005.2">isdB</text><text x="-67" y="1012.9">isdC</text><text x="-67" y="1020.6">isdD</text><text x="-67" y="1028.3">isdE</text><text x="-67" y="1036">isdF</text><text x="-67" y="1043.7">isdG</text><text x="-67" y="1051.4">sbi</text><text x="-67" y="1059.1">spa</text><text x="-67" y="1066.8">sspA</text><text x="-67" y="1074.5">sspB</text><text x="-67" y="1082.2">sspC</text><text x="-67" y="1089.9">vWbp</text><text x="-67" y="1097.6">esxA</text><text x="-67" y="1105.3">esxB</text><text x="-67" y="1113">essA</text><text x="-67" y="1120.7">essB</text><text x="-67" y="1128.4">essC</text><text x="-67" y="1136.1">esaA</text><text x="-67" y="1143.8">esaB</text><text x="-67" y="1151.5">hysA</text><text x="-67" y="1159.2">cap8H</text><text x="-67" y="1166.9">glnB</text>
<text x="-67" y="1179.6">sem_mmseqA</text><text x="-67" y="1187.3">sei_mmseqB</text><text x="-67" y="1195">sen_mmseqB</text><text x="-67" y="1202.7">seo_mmseqT</text><text x="-67" y="1210.4">seg_mmseqA</text><text x="-67" y="1218.1">selu_hit1</text><text x="-67" y="1225.8">selw_hd03</text>
<text x="-67" y="1237">sodA</text><text x="-67" y="1244.7">scnB</text><text x="-67" y="1252.4">tuf</text><text x="-67" y="1260.1">clpC</text><text x="-67" y="1267.8">cbdC</text><text x="-67" y="1275.5">DIT1_1 (Tetrodo_1992)</text><text x="-67" y="1283.2">gyrA</text><text x="-67" y="1290.9">Tn558_rpsC</text><text x="-67" y="1298.6">Tn558_ant5</text><text x="-67" y="1306.3">Tn558_rpoB</text><text x="-67" y="1314">Tn558_tetM</text><text x="-67" y="1321.7">Tn558_ermC</text>
<text x="-67" y="1334.6">lmrS_A</text><text x="-67" y="1342.3">ermC</text><text x="-67" y="1350">aacA</text><text x="-67" y="1357.7">mecA_1</text><text x="-67" y="1365.4">dfrG</text><text x="-67" y="1373.1">aphA</text><text x="-67" y="1380.8">tetK</text><text x="-67" y="1388.5">fexA</text><text x="-67" y="1396.2">norA</text><text x="-67" y="1403.9">mepA_(glc)</text><text x="-67" y="1411.6">arlR_lmrS_mi</text><text x="-67" y="1419.3">tetM</text><text x="-67" y="1427">fosB</text><text x="-67" y="1434.7">mphC</text><text x="-67" y="1442.4">msrA</text><text x="-67" y="1450.1">vgaA_LC</text><text x="-67" y="1457.8">mgrA</text><text x="-67" y="1465.5">ermB</text><text x="-67" y="1473.2">cfrA</text><text x="-67" y="1480.9">lnuA</text><text x="-67" y="1488.6">tet38</text><text x="-67" y="1496.3">qacA</text><text x="-67" y="1504">qacC</text>
<text x="-67" y="1514.6">sak_SCN</text><text x="-67" y="1522.3">scn</text><text x="-67" y="1530">chp</text>
</g>
</svg>
